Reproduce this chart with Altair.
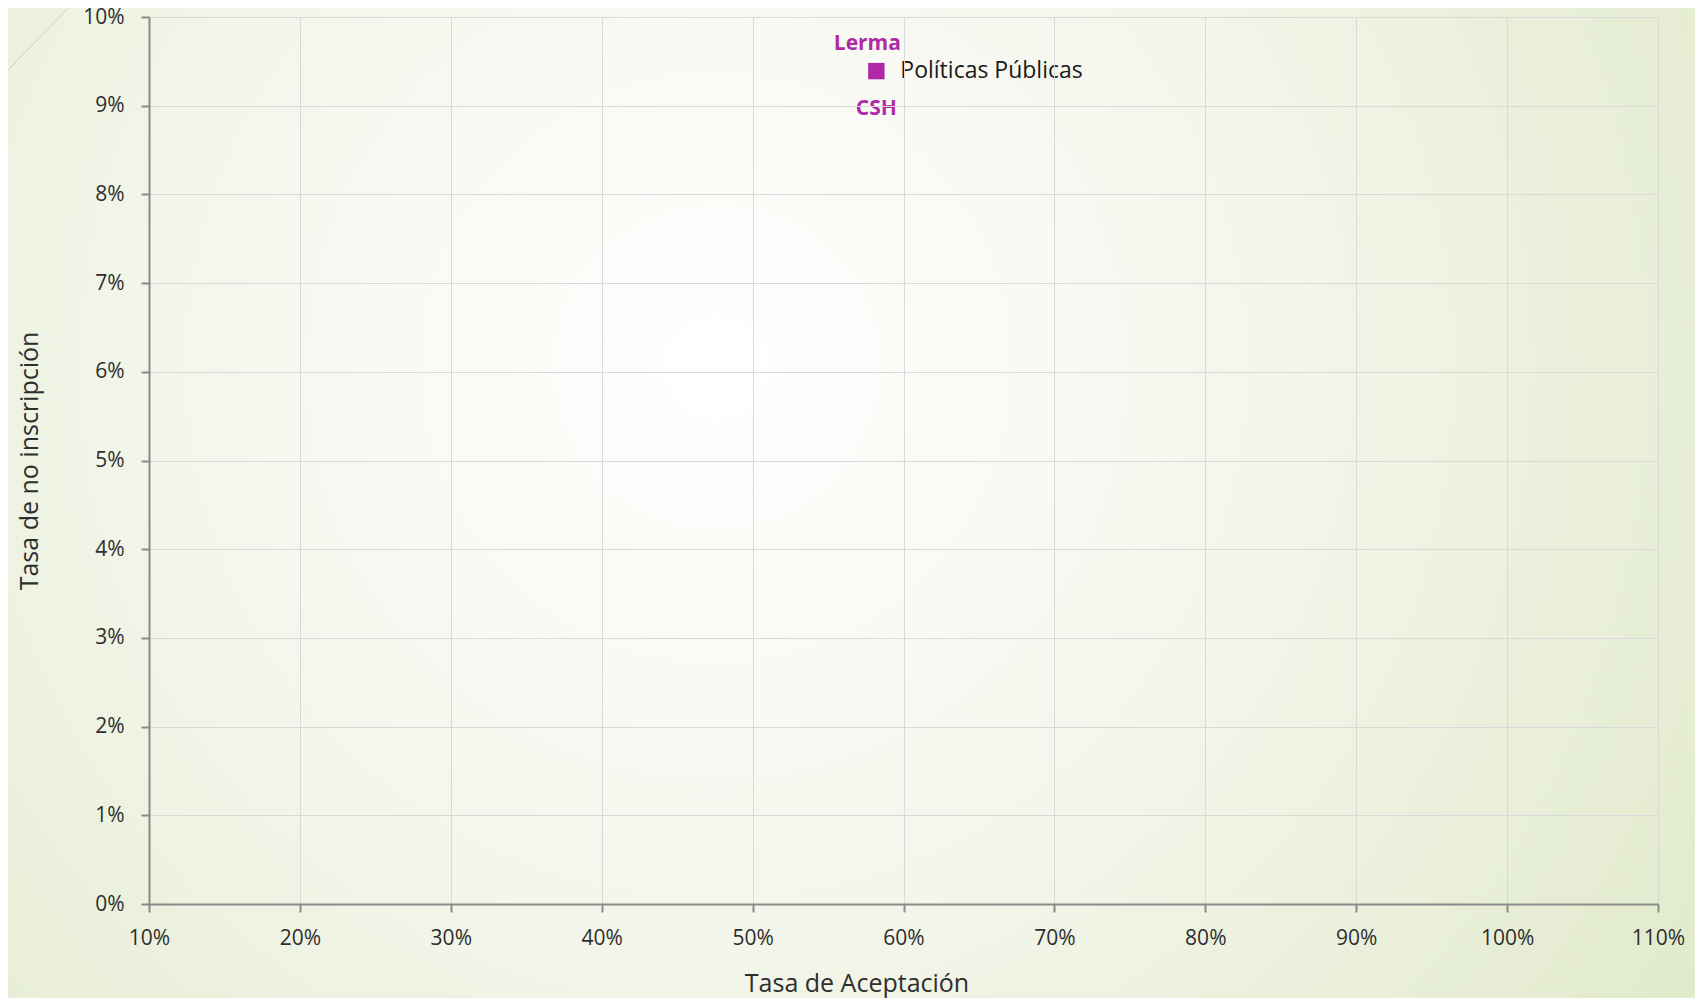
import altair as alt
import pandas as pd

# Data
programas = ["Políticas Públicas"]
unidad = ["Lerma"]
division = ["CSH"]
tasa_aceptacion = [0.582]
tasa_no_inscripcion = [0.0939]

x_ticks = [0.1, 0.2, 0.3, 0.4, 0.5, 0.6, 0.7, 0.8, 0.9, 1.0, 1.1]
y_ticks = [0.0, 0.01, 0.02, 0.03, 0.04, 0.05, 0.06, 0.07, 0.08, 0.09, 0.10]

df = pd.DataFrame({
    "programa": programas,
    "unidad": unidad,
    "division": division,
    "aceptacion": tasa_aceptacion,
    "no_inscripcion": tasa_no_inscripcion,
})

W, H = 1509, 887
PAD_L, PAD_T, PAD_R, PAD_B = 141, 9, 37, 94
FONT = "Open Sans"
MAGENTA = "#b02aa8"
TXT = "#2e2e2e"

common_axis = dict(
    format=".0%", grid=True, gridColor="#d9d9d9", gridWidth=1,
    domainColor="#8a8a8a", domainWidth=2,
    tickColor="#8a8a8a", tickWidth=2, tickSize=8,
    labelFont=FONT, labelFontSize=21, labelColor=TXT,
    labelFlush=False, labelOverlap=False,
    titleFont=FONT, titleFontSize=25, titleFontWeight="normal", titleColor=TXT,
    zindex=1,
)

x_enc = alt.X(
    "aceptacion:Q",
    scale=alt.Scale(domain=[0.1, 1.1], nice=False, zero=False),
    axis=alt.Axis(values=x_ticks, title="Tasa de Aceptación",
                  labelPadding=15, titlePadding=23, titleX=W / 2 - 47,
                  **common_axis),
)
y_enc = alt.Y(
    "no_inscripcion:Q",
    scale=alt.Scale(domain=[0, 0.10], nice=False),
    axis=alt.Axis(values=y_ticks, title="Tasa de no inscripción",
                  labelPadding=17, titlePadding=40, **common_axis),
)

bg = alt.Chart(pd.DataFrame({"k": [0]})).mark_rect(
    clip=False,
    fill={
        "gradient": "radial",
        "x1": 0.42, "y1": 0.42, "r1": 0.0,
        "x2": 0.42, "y2": 0.42, "r2": 0.72,
        "stops": [
            {"offset": 0.0, "color": "#ffffff"},
            {"offset": 0.4, "color": "#f5f7ee"},
            {"offset": 1.0, "color": "#e0e9c9"},
        ],
    },
).encode(
    x=alt.value(-PAD_L), x2=alt.value(W + PAD_R),
    y=alt.value(-PAD_T), y2=alt.value(H + PAD_B),
)

corner = alt.Chart(pd.DataFrame({"k": [0]})).mark_rule(
    clip=False, color="#c9cfb8", strokeWidth=1
).encode(
    x=alt.value(-PAD_L), x2=alt.value(-81),
    y=alt.value(53), y2=alt.value(-9),
)

base = alt.Chart(df)

points = base.mark_square(size=270, color=MAGENTA, opacity=1, cornerRadius=3).encode(
    x=x_enc, y=y_enc
)

lbl_prog = base.mark_text(
    align="left", baseline="middle", dx=24, dy=0,
    font=FONT, fontSize=23, color="#1a1a1a",
).encode(x="aceptacion:Q", y="no_inscripcion:Q", text="programa:N")

lbl_unidad = base.mark_text(
    align="center", baseline="middle", dx=-9, dy=-27,
    font=FONT, fontSize=21, fontWeight="bold", color=MAGENTA,
).encode(x="aceptacion:Q", y="no_inscripcion:Q", text="unidad:N")

lbl_div = base.mark_text(
    align="center", baseline="middle", dx=0, dy=38,
    font=FONT, fontSize=21, fontWeight="bold", color=MAGENTA,
).encode(x="aceptacion:Q", y="no_inscripcion:Q", text="division:N")

chart = alt.layer(bg, corner, points, lbl_prog, lbl_unidad, lbl_div).properties(
    width=W, height=H,
    autosize=alt.AutoSizeParams(type="none"),
    padding={"left": PAD_L, "top": PAD_T, "right": PAD_R, "bottom": PAD_B},
    background="#e4ebd1",
).configure_view(stroke=None)

chart.save("out.html", embed_options={"renderer": "svg", "actions": False})
